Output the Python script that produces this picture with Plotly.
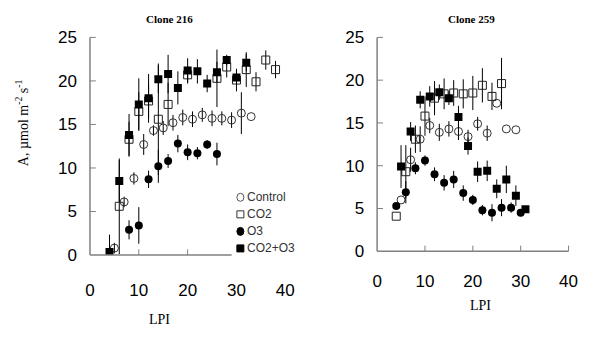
import plotly.graph_objects as go

W, H = 600, 354

# ---------------- data: Clone 216 ----------------
c216_ctrl_x = [5, 7, 9, 11, 13, 15, 17, 19, 21, 23, 25, 27, 29, 31, 33]
c216_ctrl_y = [0.8, 6.1, 8.8, 12.7, 14.3, 14.6, 15.2, 15.8, 15.6, 16.1, 15.7, 15.7, 15.5, 16.3, 15.9]
c216_ctrl_e = [0.6, 0.6, 0.7, 1.2, 0.6, 0.8, 0.9, 0.9, 0.9, 0.8, 0.9, 0.8, 0.9, 2.4, 0.0]

c216_co2_x = [6, 8, 10, 12, 14, 16, 20, 26, 28, 30, 32, 34, 36, 38]
c216_co2_y = [5.6, 13.3, 16.5, 17.7, 15.6, 17.3, 20.7, 20.3, 21.6, 20.1, 21.3, 19.9, 22.4, 21.3]
c216_co2_e = [5.5, 2.0, 2.2, 2.0, 6.4, 2.5, 1.0, 3.3, 1.2, 1.3, 2.0, 1.1, 1.1, 1.0]

c216_o3_x = [8, 10, 12, 14, 16, 18, 20, 22, 24, 26]
c216_o3_y = [2.9, 3.4, 8.7, 10.2, 10.8, 12.8, 11.8, 11.7, 12.7, 11.6]
c216_o3_e = [1.1, 2.1, 1.0, 1.9, 0.8, 1.0, 0.9, 0.7, 0.5, 1.3]

c216_both_x = [4, 6, 8, 10, 12, 14, 16, 18, 20, 22, 24, 26, 28, 30, 32]
c216_both_y = [0.35, 8.5, 13.8, 17.3, 18.0, 20.2, 20.8, 19.2, 21.2, 21.1, 19.7, 21.0, 22.4, 20.4, 22.1]
c216_both_e = [2.0, 2.4, 2.4, 3.0, 2.8, 1.6, 2.2, 1.9, 1.4, 1.4, 1.0, 1.2, 0.6, 0.8, 1.0]

# ---------------- data: Clone 259 ----------------
c259_ctrl_x = [5, 7, 9, 11, 13, 15, 17, 19, 21, 23, 25, 27, 29]
c259_ctrl_y = [6.0, 10.7, 13.1, 14.7, 13.9, 14.3, 14.0, 13.4, 14.9, 13.8, 17.3, 14.3, 14.2]
c259_ctrl_e = [0.0, 1.4, 1.5, 0.9, 1.0, 0.9, 1.0, 0.8, 0.8, 0.9, 0.0, 0.0, 0.0]

c259_co2_x = [4, 6, 8, 10, 12, 14, 16, 18, 20, 22, 24, 26]
c259_co2_y = [4.1, 9.3, 13.1, 15.8, 17.9, 18.4, 18.5, 18.4, 18.5, 19.4, 18.1, 19.6]
c259_co2_e = [0.0, 3.1, 1.6, 2.3, 2.0, 1.8, 1.5, 1.7, 2.0, 2.0, 1.6, 3.0]

c259_o3_x = [4, 6, 8, 10, 12, 14, 16, 18, 20, 22, 24, 26, 28, 30]
c259_o3_y = [5.3, 6.9, 9.7, 10.6, 9.0, 8.0, 8.4, 6.8, 6.0, 4.8, 4.5, 5.1, 5.1, 4.5]
c259_o3_e = [0.4, 1.3, 0.7, 0.6, 0.8, 0.9, 1.0, 0.9, 0.6, 0.6, 1.0, 1.0, 0.6, 0.4]

c259_both_x = [5, 7, 9, 11, 13, 15, 17, 19, 21, 23, 25, 27, 29, 31]
c259_both_y = [9.9, 14.0, 17.7, 18.1, 18.6, 17.9, 15.7, 12.3, 9.3, 9.4, 7.3, 8.4, 6.5, 4.9]
c259_both_e = [2.5, 1.1, 1.0, 1.2, 0.9, 0.8, 1.3, 1.0, 1.2, 1.2, 1.1, 1.6, 1.2, 0.0]

legend_labels = ["Control", "CO2", "O3", "CO2+O3"]
x_ticks = [0, 10, 20, 30, 40]
y_ticks = [0, 5, 10, 15, 20, 25]

# ---------------- helpers ----------------
def px(x):
    return x / W

def py(y):
    return 1 - y / H

# left panel pixel frame
L_X0, L_X1, L_YB, L_YT = 87, 287, 260, 30
# right panel pixel frame
R_X0, R_X1, R_YB, R_YT = 381, 577, 256, 30

AX = "#808080"
styles = {
    "Control": dict(symbol="circle-open", size=8, color="#333333", line=dict(width=1, color="#333333")),
    "CO2": dict(symbol="square-open", size=8, color="#222222", line=dict(width=1, color="#222222")),
    "O3": dict(symbol="circle", size=8, color="black"),
    "CO2+O3": dict(symbol="square", size=8, color="black"),
}

fig = go.Figure()

def add(xs, ys, es, name, xa, ya):
    fig.add_trace(go.Scatter(
        x=xs, y=ys, mode="markers", name=name, showlegend=False,
        xaxis=xa, yaxis=ya,
        marker=styles[name],
        error_y=dict(type="data", array=es, visible=True, color="black", thickness=1, width=0),
    ))

add(c216_ctrl_x, c216_ctrl_y, c216_ctrl_e, "Control", "x", "y")
add(c216_o3_x, c216_o3_y, c216_o3_e, "O3", "x", "y")
add(c216_co2_x, c216_co2_y, c216_co2_e, "CO2", "x", "y")
add(c216_both_x, c216_both_y, c216_both_e, "CO2+O3", "x", "y")

add(c259_ctrl_x, c259_ctrl_y, c259_ctrl_e, "Control", "x2", "y2")
add(c259_o3_x, c259_o3_y, c259_o3_e, "O3", "x2", "y2")
add(c259_co2_x, c259_co2_y, c259_co2_e, "CO2", "x2", "y2")
add(c259_both_x, c259_both_y, c259_both_e, "CO2+O3", "x2", "y2")

tickfont = dict(family="Liberation Sans, Arial", size=17, color="black")

common_x = dict(range=[0, 40], tickvals=x_ticks, showgrid=False, zeroline=False,
                tickfont=tickfont, fixedrange=True)
common_y = dict(range=[0, 25], tickvals=y_ticks, showgrid=False, zeroline=False,
                tickfont=tickfont, ticklabelstandoff=12, fixedrange=True)

fig.update_layout(
    width=W, height=H, margin=dict(l=0, r=0, t=0, b=0),
    paper_bgcolor="white", plot_bgcolor="white", showlegend=False,
    xaxis=dict(domain=[px(L_X0), px(L_X1)], anchor="y", showline=False, ticks="",
               ticklabelstandoff=23, **common_x),
    yaxis=dict(domain=[py(L_YB), py(L_YT)], anchor="x", showline=False, ticks="", **common_y),
    xaxis2=dict(domain=[px(R_X0), px(R_X1)], anchor="y2", showline=False, ticks="",
                ticklabelstandoff=18, **common_x),
    yaxis2=dict(domain=[py(R_YB), py(R_YT)], anchor="x2", showline=False, ticks="", **common_y),
)

# ---- axis lines and inside ticks drawn in paper space ----
def pline(x0, y0, x1, y1, w=1.5):
    fig.add_shape(type="line", xref="paper", yref="paper",
                  x0=px(x0), y0=py(y0), x1=px(x1), y1=py(y1),
                  line=dict(color=AX, width=w))

TL = 6
# left panel: y axis full height, x axis stops short of 30
pline(L_X0, L_YB, L_X0, L_YT)
pline(L_X0, L_YB, 232, L_YB)
for t in y_ticks[1:]:
    yy = L_YB - (L_YB - L_YT) * t / 25
    pline(L_X0, yy, L_X0 + TL, yy, 1)
for t in x_ticks[1:3]:
    xx = L_X0 + (L_X1 - L_X0) * t / 40
    pline(xx, L_YB, xx, L_YB - TL, 1)

# right panel
pline(R_X0, R_YB, R_X0, R_YT)
pline(R_X0, R_YB, R_X1, R_YB)
for t in y_ticks[1:]:
    yy = R_YB - (R_YB - R_YT) * t / 25
    pline(R_X0, yy, R_X0 + TL, yy, 1)
for t in x_ticks[1:]:
    xx = R_X0 + (R_X1 - R_X0) * t / 40
    pline(xx, R_YB, xx, R_YB - TL, 1)

serif = "Liberation Serif, Times New Roman"
ann = [
    dict(x=px(168), y=py(11), text="<b>Clone 216</b>", font=dict(family=serif, size=11)),
    dict(x=px(478), y=py(11), text="<b>Clone 259</b>", font=dict(family=serif, size=11)),
    dict(x=px(158), y=py(328), text="LPI", font=dict(family=serif, size=14)),
    dict(x=px(487), y=py(313), text="LPI", font=dict(family=serif, size=14)),
    dict(x=px(17), y=py(120), text="A, µmol m<sup>-2</sup> s<sup>-1</sup>", textangle=-90,
         font=dict(family=serif, size=14)),
]
for a in ann:
    a.update(xref="paper", yref="paper", showarrow=False, xanchor="center", yanchor="middle")
    a["font"]["color"] = "black"
    fig.add_annotation(**a)

# manual legend inside the left panel
leg_y = [199, 217, 235, 253]
leg_shape = {
    "Control": dict(type="circle", fill=None, lc="#555555"),
    "CO2": dict(type="rect", fill=None, lc="#333333"),
    "O3": dict(type="circle", fill="black", lc="black"),
    "CO2+O3": dict(type="rect", fill="black", lc="black"),
}
for lab, yy in zip(legend_labels, leg_y):
    s = leg_shape[lab]
    hw = 3.5
    extra = 0.5 if s["type"] == "circle" else 0
    fig.add_shape(type=s["type"], xref="paper", yref="paper", xsizemode="pixel", ysizemode="pixel",
                  xanchor=px(241), yanchor=py(yy), x0=-hw, x1=hw, y0=-hw - extra, y1=hw + extra,
                  line=dict(color=s["lc"], width=1),
                  fillcolor=s["fill"] if s["fill"] else "rgba(0,0,0,0)")
    fig.add_annotation(x=px(246), y=py(yy), xref="paper", yref="paper", text=lab, showarrow=False,
                       xanchor="left", yanchor="middle",
                       font=dict(family="Liberation Sans, Arial", size=12, color="#333333"))

fig.write_html("out.html")
